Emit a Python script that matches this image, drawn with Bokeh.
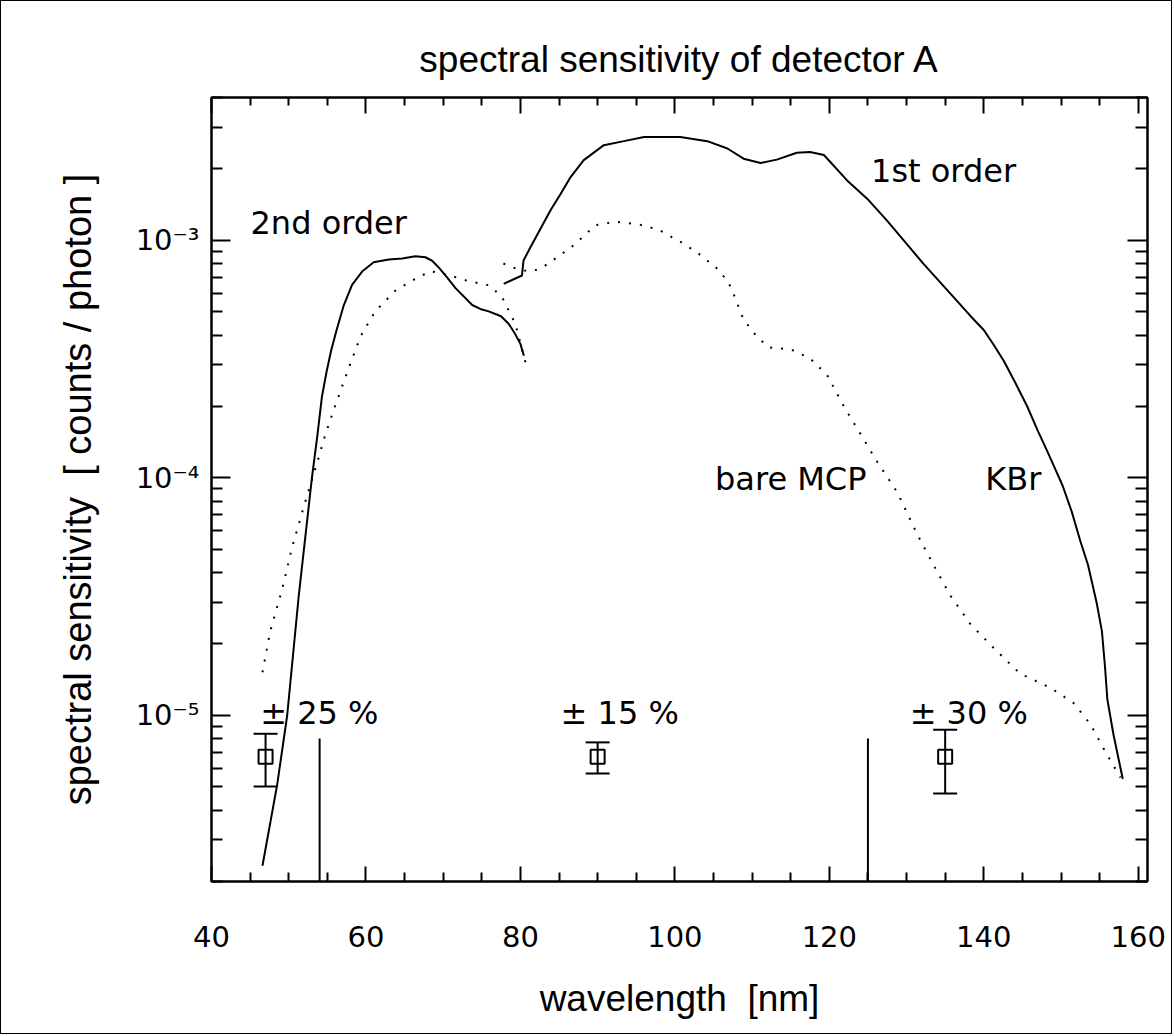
from bokeh.plotting import figure
from bokeh.models import (LogAxis, LinearAxis, FixedTicker, Whisker, TeeHead,
                          ColumnDataSource, CustomLabelingPolicy)
from bokeh.core.properties import value
from bokeh.embed import file_html
from bokeh.resources import INLINE

# ---- data ----
# 2nd order, KBr-coated (solid)
wl2_kbr = [46.6, 48.5, 49.8, 51.3, 53.0, 53.7, 54.3, 54.9, 55.5, 56.2, 57.1, 58.2,
           59.5, 61.0, 62.95, 64.7, 66.4, 67.7, 68.6, 69.5, 70.5, 71.6, 72.7, 73.75,
           74.8, 75.9, 77.5, 78.5, 79.3, 80.0, 80.45]
s2_kbr = [2.33e-6, 5.1e-6, 1.0e-5, 3.2e-5, 1.0e-4, 1.5e-4, 2.2e-4, 2.8e-4, 3.45e-4,
          4.2e-4, 5.3e-4, 6.5e-4, 7.4e-4, 8.1e-4, 8.32e-4, 8.4e-4, 8.59e-4, 8.5e-4,
          8.2e-4, 7.65e-4, 7.0e-4, 6.3e-4, 5.8e-4, 5.35e-4, 5.15e-4, 5.03e-4, 4.8e-4,
          4.45e-4, 4.05e-4, 3.67e-4, 3.27e-4]
# 2nd order, bare MCP (dotted)
wl2_mcp = [46.6, 47.6, 49.2, 50.4, 51.95, 53.5, 54.76, 56.05, 57.8, 59.3, 61.2, 63.8,
           66.0, 68.35, 70.7, 73.3, 75.9, 77.6, 78.7, 79.35, 80.65]
s2_mcp = [1.52e-5, 2.26e-5, 3.45e-5, 5.06e-5, 7.57e-5, 1.11e-4, 1.53e-4, 2.03e-4,
          2.92e-4, 3.95e-4, 5.03e-4, 6.15e-4, 6.79e-4, 7.43e-4, 7.15e-4, 6.74e-4,
          6.48e-4, 5.8e-4, 4.91e-4, 4.45e-4, 3.07e-4]
# 1st order, KBr-coated (solid)
wl1_kbr = [77.84, 80.2, 80.4, 81.3, 82.6, 83.9, 85.2, 86.5, 88.2, 90.8, 93.4, 96.0,
           100.7, 104.2, 106.8, 108.9, 111.1, 113.2, 115.8, 117.5, 119.3, 122.3, 124.9,
           127.5, 130.7, 132.2, 136.7, 138.3, 140.0, 141.3, 142.6, 144.1, 145.6, 147.0,
           148.2, 149.2, 150.2, 151.4, 152.5, 153.5, 154.6, 155.3, 155.7, 156.0, 156.8,
           158.0]
s1_kbr = [6.57e-4, 7.12e-4, 8.23e-4, 9.37e-4, 1.12e-3, 1.34e-3, 1.57e-3, 1.85e-3,
          2.18e-3, 2.52e-3, 2.62e-3, 2.73e-3, 2.73e-3, 2.62e-3, 2.44e-3, 2.21e-3,
          2.12e-3, 2.19e-3, 2.34e-3, 2.36e-3, 2.29e-3, 1.79e-3, 1.5e-3, 1.21e-3,
          9.1e-4, 7.97e-4, 5.49e-4, 4.8e-4, 4.2e-4, 3.63e-4, 3.11e-4, 2.51e-4, 2.01e-4,
          1.58e-4, 1.30e-4, 1.1e-4, 9.3e-5, 7.2e-5, 5.43e-5, 4.3e-5, 3.0e-5, 2.26e-5,
          1.6e-5, 1.17e-5, 8.3e-6, 5.4e-6]
# 1st order, bare MCP (dotted)
wl1_mcp = [77.8, 78.9, 81.1, 82.6, 85.0, 87.0, 89.7, 92.3, 95.3, 97.9, 100.9, 103.1,
           105.7, 107.0, 107.6, 108.9, 110.6, 112.1, 115.1, 117.5, 119.7, 121.85, 124.0,
           126.2, 128.8, 131.35, 133.5, 135.7, 138.25, 141.3, 144.7, 148.6, 151.6,
           153.8, 155.5, 157.7]
s1_mcp = [8.0e-4, 7.71e-4, 7.4e-4, 7.6e-4, 8.6e-4, 9.6e-4, 1.16e-3, 1.20e-3, 1.17e-3,
          1.11e-3, 9.8e-4, 8.79e-4, 7.52e-4, 6.6e-4, 5.96e-4, 4.64e-4, 3.95e-4, 3.55e-4,
          3.47e-4, 3.19e-4, 2.72e-4, 2.01e-4, 1.54e-4, 1.17e-4, 8.7e-5, 5.82e-5, 4.3e-5,
          3.19e-5, 2.43e-5, 1.92e-5, 1.50e-5, 1.31e-5, 1.13e-5, 9.2e-6, 7.28e-6, 5.48e-6]

# band limits (vertical marks)
band_wl = [54, 125]
band_top = 8e-6

# uncertainty examples
err_wl = [47, 90, 135]
err_val = [6.7e-6, 6.7e-6, 6.7e-6]
err_pct = [25, 15, 30]
err_text = ["\u00b1 25 %", "\u00b1 15 %", "\u00b1 30 %"]

x_ticks = [40, 60, 80, 100, 120, 140, 160]
y_ticks = [1e-5, 1e-4, 1e-3]
y_tick_labels = ["10\u207b\u2075", "10\u207b\u2074", "10\u207b\u00b3"]

# ---- figure ----
p = figure(width=1172, height=1034, x_range=(40, 161.2), y_range=(2e-6, 4e-3),
           y_axis_type="log", output_backend="svg", toolbar_location=None,
           min_border_left=210, min_border_right=26, min_border_top=96,
           min_border_bottom=154, title="spectral sensitivity of detector A")
p.styles = {"border": "1px solid black"}
p.grid.visible = False
p.outline_line_color = "black"
p.outline_line_width = 2
p.background_fill_color = "white"
p.border_fill_color = "white"

p.title.align = "center"
p.title.text_font = "Liberation Sans"
p.title.text_font_size = "37px"
p.title.text_font_style = "normal"
p.title.text_color = "black"
p.title.standoff = 28

xminor = [v for v in range(45, 161, 5) if v % 20 != 0]
yminor = []
for d in [1e-6, 1e-5, 1e-4, 1e-3]:
    for m in range(2, 10):
        v = m * d
        if 2e-6 <= v <= 4e-3:
            yminor.append(v)

xt = FixedTicker(ticks=x_ticks, minor_ticks=xminor)
yt = FixedTicker(ticks=y_ticks, minor_ticks=yminor)

tick_font = "DejaVu Sans"

def style_axis(ax, maj, mnr):
    ax.axis_line_width = 2
    ax.axis_line_color = "black"
    ax.major_tick_in = maj
    ax.major_tick_out = 0
    ax.minor_tick_in = mnr
    ax.minor_tick_out = 0
    ax.major_tick_line_width = 2
    ax.minor_tick_line_width = 2
    ax.major_tick_line_color = "black"
    ax.minor_tick_line_color = "black"
    ax.major_label_text_font = tick_font
    ax.major_label_text_color = "black"
    ax.axis_label_text_color = "black"

xa = p.xaxis[0]
xa.ticker = xt
style_axis(xa, 15, 9)
xa.major_label_text_font_size = "29px"
xa.major_label_standoff = 44
xa.axis_label = "wavelength \u00a0[nm]"
xa.axis_label_text_font = "Liberation Sans"
xa.axis_label_text_font_size = "37px"
xa.axis_label_text_font_style = "normal"
xa.axis_label_standoff = 28

ya = p.yaxis[0]
ya.ticker = yt
style_axis(ya, 19, 11)
ya.major_label_text_font_size = "29px"
ya.major_label_overrides = {t: s for t, s in zip(y_ticks, y_tick_labels)}
ya.major_label_standoff = 12
ya.axis_label = "spectral sensitivity \u00a0[ counts / photon ]"
ya.axis_label_text_font = "Liberation Sans"
ya.axis_label_text_font_size = "38px"
ya.axis_label_text_font_style = "normal"
ya.axis_label_standoff = 34

hide_all = "for (const i of indices) indices.unset(i)"

top = LinearAxis(ticker=FixedTicker(ticks=x_ticks, minor_ticks=xminor))
style_axis(top, 16, 8)
top.major_label_text_font_size = "1px"
top.major_label_standoff = 0
top.major_label_policy = CustomLabelingPolicy(code=hide_all)
p.add_layout(top, "above")

right = LogAxis(ticker=FixedTicker(ticks=y_ticks, minor_ticks=yminor))
style_axis(right, 20, 12)
right.major_label_text_font_size = "1px"
right.major_label_standoff = 0
right.major_label_policy = CustomLabelingPolicy(code=hide_all)
p.add_layout(right, "right")

# curves
p.line(wl2_kbr, s2_kbr, line_color="black", line_width=2)
p.line(wl1_kbr, s1_kbr, line_color="black", line_width=2)
p.line(wl2_mcp, s2_mcp, line_color="black", line_width=2, line_dash="2 9")
p.line(wl1_mcp, s1_mcp, line_color="black", line_width=2, line_dash="2 9")

# band marks
p.segment(x0=band_wl, y0=[2e-6] * len(band_wl), x1=band_wl,
          y1=[band_top] * len(band_wl), line_color="black", line_width=2)

# error bars
esrc = ColumnDataSource(dict(
    x=err_wl, y=err_val,
    upper=[v * (1 + e / 100) for v, e in zip(err_val, err_pct)],
    lower=[v * (1 - e / 100) for v, e in zip(err_val, err_pct)],
))
wh = Whisker(source=esrc, base="x", upper="upper", lower="lower", dimension="height",
             line_color="black", line_width=2,
             upper_head=TeeHead(size=24, line_width=2, line_color="black"),
             lower_head=TeeHead(size=24, line_width=2, line_color="black"))
p.add_layout(wh)
p.scatter("x", "y", source=esrc, marker="square", size=14, fill_color=None,
          line_color="black", line_width=2)

lab_font = value("DejaVu Sans")
p.text(x=[46.3, 85.2, 130.4], y=[1.02e-5] * 3, text=err_text, text_font=lab_font,
       text_font_size="32px", text_baseline="alphabetic", text_align="left",
       text_color="black")
p.text(x=[45.05, 125.4, 105.2, 140.2], y=[1.18e-3, 1.97e-3, 9.9e-5, 9.9e-5],
       text=["2nd order", "1st order", "bare MCP", "KBr"], text_font=lab_font,
       text_font_size="32px", text_baseline="alphabetic", text_align="left",
       text_color="black")

open("out.html", "w").write(file_html(p, INLINE))
